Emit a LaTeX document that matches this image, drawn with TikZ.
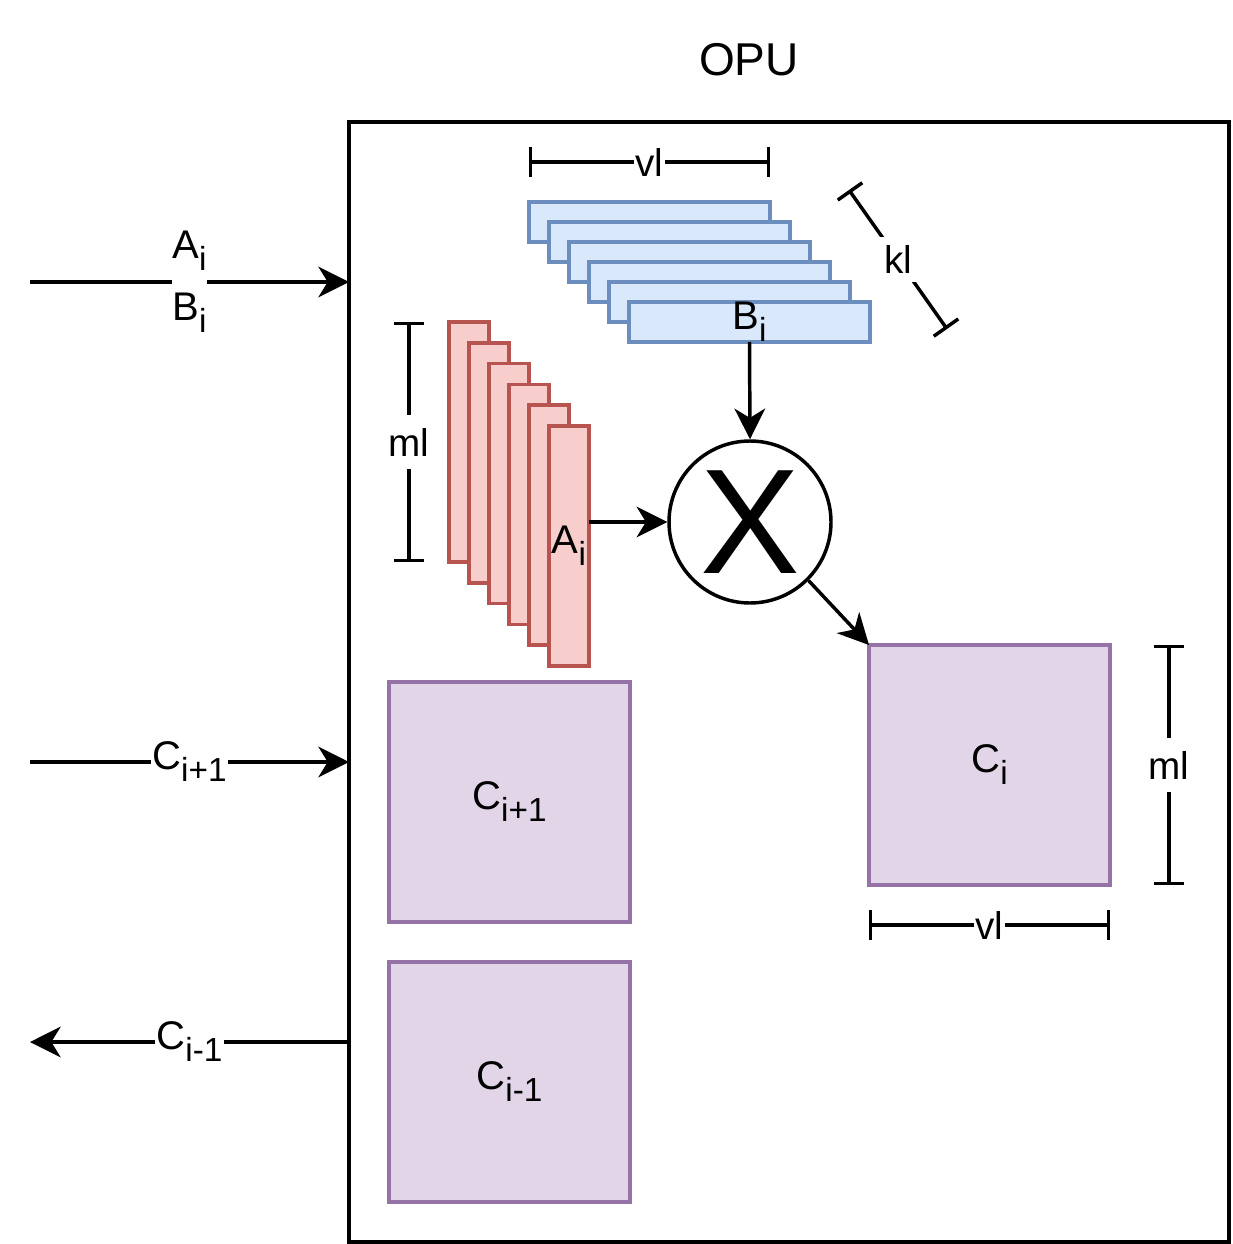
\documentclass[tikz,border=0pt]{standalone}
\usepackage{fontspec}
\setmainfont{Liberation Sans}
\usetikzlibrary{arrows.meta}
\definecolor{bfill}{HTML}{DAE8FC}\definecolor{bdraw}{HTML}{6C8EBF}
\definecolor{rfill}{HTML}{F8CECC}\definecolor{rdraw}{HTML}{B85450}
\definecolor{pfill}{HTML}{E1D5E7}\definecolor{pdraw}{HTML}{9673A6}
\newcommand\lsub[1]{\raisebox{-0.3em}{\fontsize{25}{25}\selectfont #1}}
\begin{document}
\begin{tikzpicture}[x=0.75pt,y=-0.75pt,line width=2.6pt,
  lbl/.style={font=\fontsize{30}{36}\selectfont,inner sep=0pt},
  elbl/.style={lbl,fill=white,inner xsep=1pt,inner ysep=2pt},
  dimlbl/.style={font=\fontsize{29}{34}\selectfont,fill=white,inner xsep=1pt,inner ysep=10pt},
  arr/.style={-{Stealth[length=23pt,width=23pt,inset=7pt]}},
  dimline/.style={{Bar[width=22.5pt]}-{Bar[width=22.5pt]}},
  boxbase/.style={draw,anchor=north west,inner sep=0pt,outer sep=0pt},
  bbar/.style={boxbase,draw=bdraw,fill=bfill,minimum width=241*0.75pt,minimum height=40*0.75pt},
  rbar/.style={boxbase,draw=rdraw,fill=rfill,minimum width=40*0.75pt,minimum height=240*0.75pt},
  cbox/.style={boxbase,draw=pdraw,fill=pfill,minimum width=241*0.75pt,minimum height=240*0.75pt,font=\fontsize{30}{36}\selectfont},
]
\useasboundingbox (0,0) rectangle (1232,1244);
% title and main box
\node[font=\fontsize{34.5}{40}\selectfont] (title) at (749,60) {OPU};
\node[boxbase,line width=2.9pt,minimum width=880*0.75pt,minimum height=1120*0.75pt] (opu) at (349,122) {};
% B bars
\foreach \k in {0,...,4}{\node[bbar] (b\k) at ({529+20*\k},{202+20*\k}) {};}
\node[bbar,font=\fontsize{30}{36}\selectfont] (b5) at (629,302) {B\lsub{i}};
% A bars
\foreach \k in {0,...,4}{\node[rbar] (a\k) at ({449+20*\k},{322+20.8*\k}) {};}
\node[rbar,font=\fontsize{30}{36}\selectfont] (a5) at (549,426) {A\lsub{i}};
% multiplier
\node[draw,circle,minimum size=162*0.75pt,inner sep=0pt,font=\fontsize{112}{112}\selectfont] (mul) at (750,522) {X};
% C boxes
\node[cbox] (ci) at (869,645) {C\lsub{i}};
\node[cbox] (cip) at (389,682) {C\lsub{i+1}};
\node[cbox] (cim) at (389,962) {C\lsub{i-1}};
% internal arrows
\draw[arr] (b5.south) -- (mul.north);
\draw[arr] (a5.east |- mul.west) -- (mul.west);
\draw[arr] (mul.-45) -- (ci.north west);
% external arrows
\coordinate (inAB) at (30,282);
\coordinate (inC) at (30,762);
\coordinate (outC) at (30,1042);
\draw[arr] (inAB) -- (inAB -| opu.west) node[midway,lbl,fill=white,align=center,font=\fontsize{30}{46.5}\selectfont] (lab) {A\lsub{i}\\B\lsub{i}};
\draw[arr] (inC) -- (inC -| opu.west) node[midway,elbl] (lc1) {C\lsub{i+1}};
\draw[arr] (outC -| opu.west) -- (outC) node[midway,elbl] (lc2) {C\lsub{i-1}};
% dimensions
\coordinate (vla) at (529,162); \coordinate (vlb) at (770,162);
\draw[dimline] (vla) -- (vlb) node[midway,dimlbl] (vlt) {vl};
\coordinate (kla) at (849,190); \coordinate (klb) at (947,329);
\draw[dimline] (kla) -- (klb) node[midway,dimlbl,inner xsep=4pt,inner ysep=6pt] (klt) {kl};
\coordinate (mla) at (409,322); \coordinate (mlb) at (409,562);
\draw[dimline] (mla) -- (mlb) node[midway,dimlbl] (mlt) {ml};
\coordinate (mra) at (1169,645); \coordinate (mrb) at (1169,885);
\draw[dimline] (mra) -- (mrb) node[midway,dimlbl] (mrt) {ml};
\coordinate (vba) at (869,925); \coordinate (vbb) at (1110,925);
\draw[dimline] (vba) -- (vbb) node[midway,dimlbl] (vbt) {vl};
\end{tikzpicture}
\end{document}
